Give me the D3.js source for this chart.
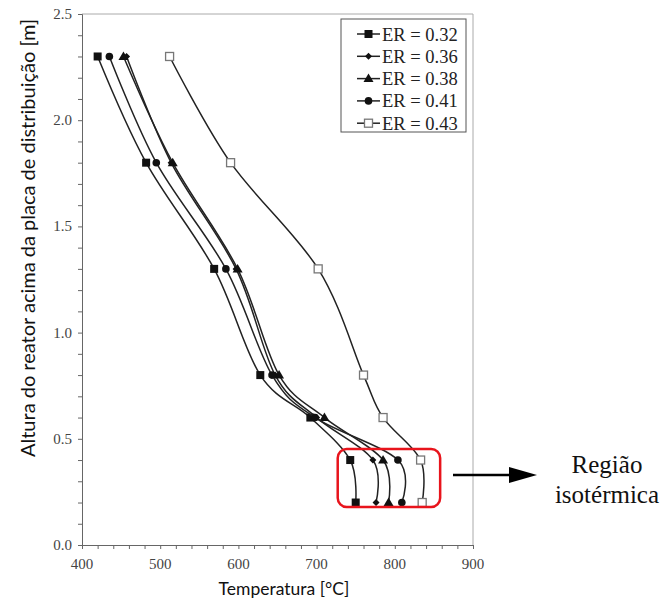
<!DOCTYPE html>
<html>
<head>
<meta charset="utf-8">
<script src="https://cdn.jsdelivr.net/npm/d3@7"></script>
<style>
  body { margin: 0; background: #fff; }
  svg { display: block; }
  .tick-label { font-family: "Liberation Serif", "Times New Roman", serif; font-size: 15px; fill: #444; }
  .axis-title { font-family: Lato, "Open Sans", sans-serif; fill: #111; }
  .legend-text { font-family: "Liberation Serif", "Times New Roman", serif; font-size: 18.5px; fill: #222; }
  .note { font-family: "Liberation Serif", "Times New Roman", serif; font-size: 25px; fill: #111; }
</style>
</head>
<body>
<div id="chart"></div>
<script>
// heights above the distribution plate [m]
const heights = [2.3, 1.8, 1.3, 0.8, 0.6, 0.4, 0.2];
// temperatures [°C] per equivalence ratio
const er032 = [420, 482, 569, 628, 692, 743, 750];
const er036 = [457, 514, 597, 647, 700, 772, 776];
const er038 = [453, 516, 599, 652, 710, 785, 792];
const er041 = [435, 495, 584, 643, 698, 804, 809];
const er043 = [512, 590, 702, 760, 785, 833, 835];

const seriesNames = ['ER = 0.32', 'ER = 0.36', 'ER = 0.38', 'ER = 0.41', 'ER = 0.43'];
const seriesValues = [er032, er036, er038, er041, er043];
const seriesMarkers = ['square', 'diamond', 'triangle', 'circle', 'open'];

const xTicks = [400, 500, 600, 700, 800, 900];
const yTicks = [0, 0.5, 1.0, 1.5, 2.0, 2.5];

// isothermal region annotation (data coords)
const regionTemp = [727, 858];
const regionHeight = [0.179, 0.452];

const width = 666;
const height = 603;
const plotLeft = 82, plotRight = 473, plotTop = 14, plotBottom = 545;

const svg = d3.select('#chart').append('svg')
  .attr('width', width)
  .attr('height', height);

const x = d3.scaleLinear().domain([400, 900]).range([plotLeft, plotRight]);
const y = d3.scaleLinear().domain([0, 2.5]).range([plotBottom, plotTop]);

// frame (top + right)
svg.append('path')
  .attr('d', `M${plotLeft},${plotTop}H${plotRight}V${plotBottom}`)
  .attr('fill', 'none')
  .attr('stroke', '#aaa')
  .attr('stroke-width', 1);

// x axis
const xAxis = svg.append('g').attr('transform', `translate(0,${plotBottom})`);
xAxis.call(d3.axisBottom(x).tickValues(d3.range(400, 901, 20)).tickSize(4).tickFormat(''));
xAxis.select('.domain').attr('stroke', '#666');
xAxis.selectAll('.tick line').attr('stroke', '#666');
svg.append('g').selectAll('text')
  .data(xTicks)
  .join('text')
  .attr('class', 'tick-label')
  .attr('x', d => x(d))
  .attr('y', plotBottom + 24)
  .attr('text-anchor', 'middle')
  .text(d => d);

// y axis
const yAxis = svg.append('g').attr('transform', `translate(${plotLeft},0)`);
yAxis.call(d3.axisLeft(y).tickValues(d3.range(0, 26).map(i => i / 10)).tickSize(4).tickFormat(''));
yAxis.select('.domain').attr('stroke', '#666');
yAxis.selectAll('.tick line').attr('stroke', '#666');
svg.append('g').selectAll('text')
  .data(yTicks)
  .join('text')
  .attr('class', 'tick-label')
  .attr('x', plotLeft - 10)
  .attr('y', d => y(d) + 5)
  .attr('text-anchor', 'end')
  .text(d => d.toFixed(1));

// axis titles
svg.append('text')
  .attr('class', 'axis-title')
  .attr('x', 284)
  .attr('y', 595)
  .attr('text-anchor', 'middle')
  .style('font-size', '17.5px')
  .text('Temperatura [°C]');

svg.append('text')
  .attr('class', 'axis-title')
  .attr('transform', `translate(35,238) rotate(-90)`)
  .attr('text-anchor', 'middle')
  .style('font-size', '20px')
  .text('Altura do reator acima da placa de distribuição [m]');

// marker drawing helper
function drawMarker(g, type, cx, cy) {
  if (type === 'square') {
    g.append('rect').attr('x', cx - 4).attr('y', cy - 4).attr('width', 8).attr('height', 8).attr('fill', '#111');
  } else if (type === 'diamond') {
    g.append('path').attr('d', `M${cx},${cy - 3.5}L${cx + 3.5},${cy}L${cx},${cy + 3.5}L${cx - 3.5},${cy}Z`).attr('fill', '#111');
  } else if (type === 'triangle') {
    g.append('path').attr('d', `M${cx},${cy - 5}L${cx + 5},${cy + 3.5}L${cx - 5},${cy + 3.5}Z`).attr('fill', '#111');
  } else if (type === 'circle') {
    g.append('circle').attr('cx', cx).attr('cy', cy).attr('r', 3.8).attr('fill', '#111');
  } else {
    g.append('rect').attr('x', cx - 4).attr('y', cy - 4).attr('width', 8).attr('height', 8)
      .attr('fill', '#fff').attr('stroke', '#777').attr('stroke-width', 1.3);
  }
}

// lines
const line = d3.line()
  .x(d => x(d[0]))
  .y(d => y(d[1]))
  .curve(d3.curveCardinal.tension(0));

seriesValues.forEach((vals, i) => {
  const pts = vals.map((v, j) => [v, heights[j]]);
  const g = svg.append('g').attr('class', 'series');
  g.append('path')
    .attr('d', line(pts))
    .attr('fill', 'none')
    .attr('stroke', '#222')
    .attr('stroke-width', 1.5);
  pts.forEach(p => drawMarker(g, seriesMarkers[i], x(p[0]), y(p[1])));
});

// legend
const legend = svg.append('g');
legend.append('rect')
  .attr('x', 341).attr('y', 19).attr('width', 125).attr('height', 113)
  .attr('fill', '#fff').attr('stroke', '#555').attr('stroke-width', 1);
seriesNames.forEach((name, i) => {
  const ly = 34 + i * 22.3;
  legend.append('line')
    .attr('x1', 357).attr('x2', 380).attr('y1', ly).attr('y2', ly)
    .attr('stroke', '#222').attr('stroke-width', 1.5);
  drawMarker(legend, seriesMarkers[i], 368.5, ly);
  legend.append('text')
    .attr('class', 'legend-text')
    .attr('x', 382).attr('y', ly + 6.5)
    .text(name);
});

// isothermal region box
svg.append('rect')
  .attr('x', x(regionTemp[0])).attr('y', y(regionHeight[1]))
  .attr('width', x(regionTemp[1]) - x(regionTemp[0]))
  .attr('height', y(regionHeight[0]) - y(regionHeight[1]))
  .attr('rx', 9).attr('ry', 9)
  .attr('fill', 'none').attr('stroke', '#e8141c').attr('stroke-width', 2.5);

// arrow + note
const arrowY = 475;
svg.append('line')
  .attr('x1', 453).attr('x2', 512).attr('y1', arrowY).attr('y2', arrowY)
  .attr('stroke', '#000').attr('stroke-width', 2.5);
svg.append('path')
  .attr('d', `M${537},${arrowY}L${509},${arrowY - 8}L${509},${arrowY + 8}Z`)
  .attr('fill', '#000');
svg.append('text').attr('class', 'note').attr('x', 607).attr('y', 473).attr('text-anchor', 'middle').text('Região');
svg.append('text').attr('class', 'note').attr('x', 607).attr('y', 503).attr('text-anchor', 'middle').text('isotérmica');
</script>
</body>
</html>
